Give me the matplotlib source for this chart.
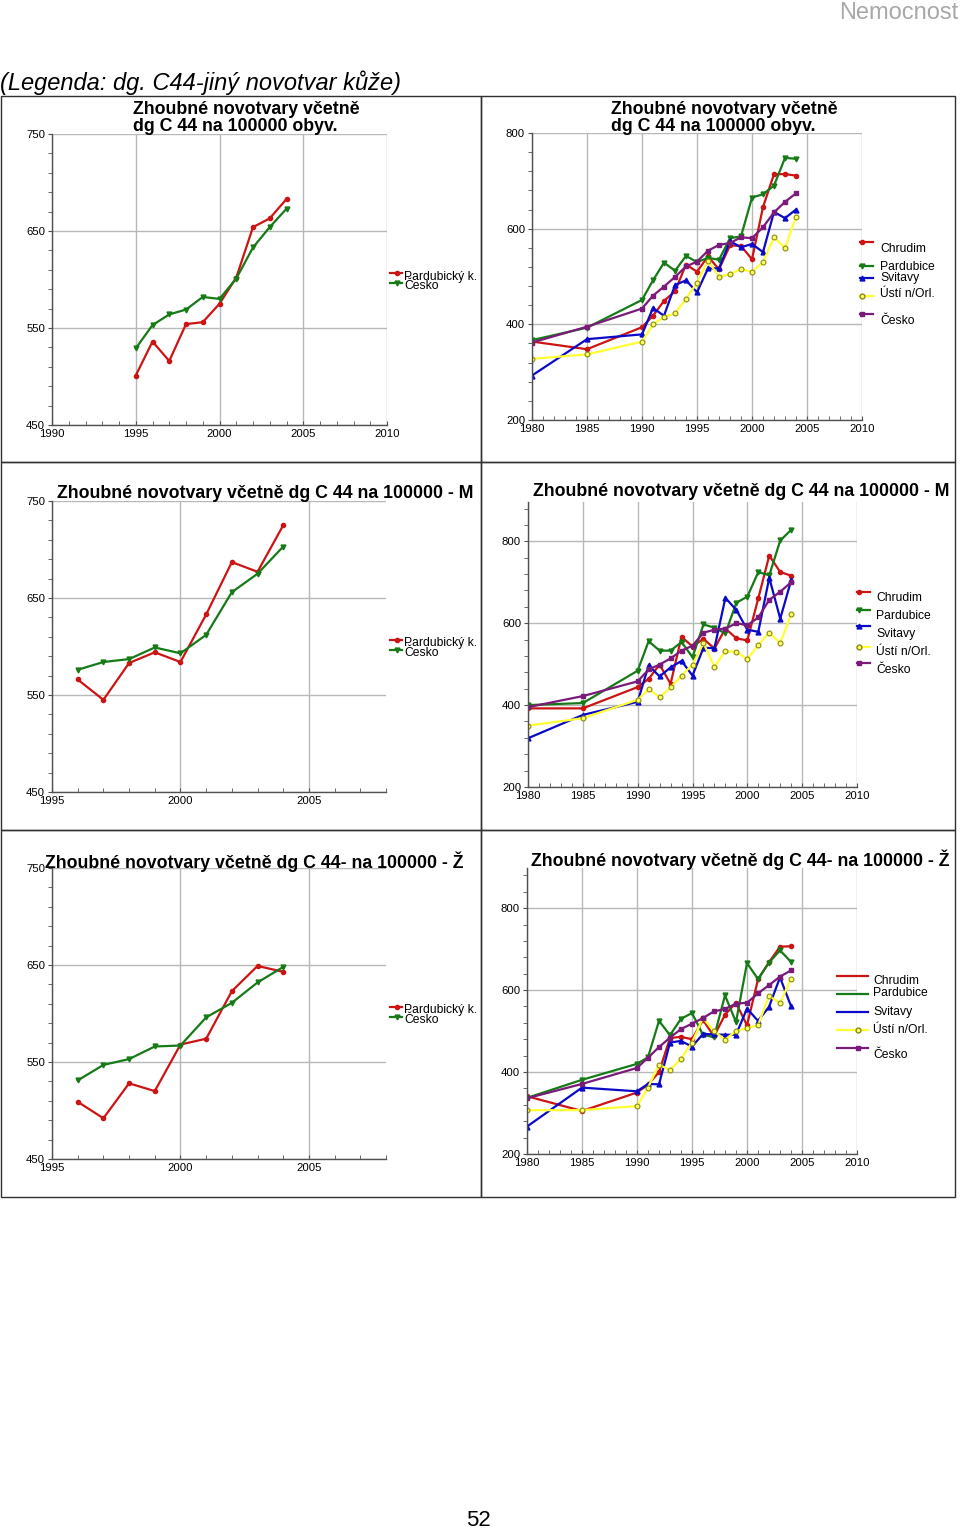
import matplotlib
matplotlib.use("Agg")
import numpy as np
import matplotlib.pyplot as plt
from matplotlib.lines import Line2D
from matplotlib.patches import Rectangle
from matplotlib.ticker import FixedLocator, MultipleLocator

plt.rcParams['font.family'] = ['Liberation Sans', 'DejaVu Sans']

W, H = 960, 1530

# ---------------- data ----------------
years_kraj_all = [1995, 1996, 1997, 1998, 1999, 2000, 2001, 2002, 2003, 2004]
kraj_all_pardubicky = [501, 536, 516, 554, 556, 575, 602, 654, 663, 683]
kraj_all_cesko = [529, 553, 564, 569, 582, 580, 601, 633, 654, 673]

years_kraj_mz = [1996, 1997, 1998, 1999, 2000, 2001, 2002, 2003, 2004]
kraj_m_pardubicky = [566, 545, 583, 594, 584, 633, 687, 677, 725]
kraj_m_cesko = [576, 584, 587, 599, 593, 612, 656, 675, 703]
kraj_z_pardubicky = [509, 492, 528, 520, 568, 574, 623, 649, 643]
kraj_z_cesko = [531, 547, 553, 566, 567, 596, 611, 632, 648]

years_okres = [1980, 1985, 1990, 1991, 1992, 1993, 1994, 1995, 1996, 1997,
               1998, 1999, 2000, 2001, 2002, 2003, 2004]
all_chrudim = [364, 348, 394, 418, 449, 469, 525, 510, 542, 515, 565, 564, 536, 645, 714, 714, 711]
all_pardubice = [367, 393, 451, 492, 529, 512, 543, 530, 539, 535, 580, 584, 665, 672, 690, 748, 746]
all_svitavy = [293, 369, 379, 434, 418, 482, 492, 467, 517, 517, 574, 561, 568, 551, 635, 622, 640]
all_usti = [328, 337, 364, 400, 415, 423, 453, 487, 533, 499, 505, 515, 510, 530, 582, 559, 625]
all_cesko = [362, 395, 433, 460, 479, 499, 521, 531, 554, 566, 570, 582, 580, 603, 634, 656, 674]

m_chrudim = [392, 392, 444, 464, 499, 452, 567, 543, 562, 538, 587, 563, 558, 661, 765, 725, 716]
m_pardubice = [400, 405, 484, 556, 533, 533, 554, 517, 597, 589, 575, 650, 665, 725, 717, 802, 828]
m_svitavy = [319, 376, 408, 497, 470, 492, 508, 472, 540, 539, 662, 632, 584, 579, 711, 611, 705]
m_usti = [350, 368, 413, 439, 419, 443, 472, 499, 551, 494, 532, 530, 512, 547, 577, 551, 623]
m_cesko = [395, 422, 458, 487, 499, 514, 533, 545, 577, 584, 587, 600, 595, 614, 657, 677, 700]

z_chrudim = [341, 305, 350, 369, 400, 483, 486, 480, 527, 487, 540, 569, 514, 626, 668, 706, 707]
z_pardubice = [337, 381, 420, 436, 525, 490, 530, 544, 491, 485, 587, 522, 666, 627, 667, 697, 669]
z_svitavy = [267, 362, 353, 371, 370, 472, 476, 462, 493, 492, 491, 491, 555, 525, 559, 631, 561]
z_usti = [307, 307, 317, 362, 418, 405, 433, 472, 532, 500, 479, 500, 507, 514, 586, 568, 628]
z_cesko = [336, 371, 410, 435, 461, 484, 505, 518, 532, 548, 554, 567, 569, 592, 612, 633, 648]

kraj_labels = ['Pardubický k.', 'Česko']
okres_labels = ['Chrudim', 'Pardubice', 'Svitavy', 'Ústí n/Orl.', 'Česko']

title_all = 'Zhoubné novotvary včetně\ndg C 44 na 100000 obyv.'
title_m = 'Zhoubné novotvary včetně dg C 44 na 100000 - M'
title_z = 'Zhoubné novotvary včetně dg C 44- na 100000 - Ž'

# ---------------- styles ----------------
RED, GREEN, BLUE, YELLOW, PURPLE = '#cc1414', '#167a16', '#0a0ac8', '#ffff33', '#7a1a7a'
styles_kraj = [dict(color=RED, marker='o', ms=3, mfc=RED, mec=RED),
               dict(color=GREEN, marker='v', ms=3.5, mfc=GREEN, mec=GREEN)]
styles_okres = [dict(color=RED, marker='o', ms=3, mfc=RED, mec=RED),
                dict(color=GREEN, marker='v', ms=3.5, mfc=GREEN, mec=GREEN),
                dict(color=BLUE, marker='^', ms=3.5, mfc=BLUE, mec=BLUE),
                dict(color=YELLOW, marker='o', ms=3.5, mfc='#ffff66', mec='#8a8a10', mew=0.8),
                dict(color=PURPLE, marker='s', ms=3, mfc=PURPLE, mec=PURPLE)]

fig = plt.figure(figsize=(W / 100, H / 100), dpi=100)


def fx(x):
    return x / W


def fy(y):
    return 1 - y / H


def make_ax(l, r, t, b):
    return fig.add_axes([l / W, 1 - b / H, (r - l) / W, (b - t) / H])


def style_ax(ax, xlim, ylim, xmaj, ymaj_list, ymin_list):
    ax.set_xlim(*xlim)
    ax.set_ylim(*ylim)
    ax.xaxis.set_major_locator(MultipleLocator(xmaj))
    ax.xaxis.set_minor_locator(MultipleLocator(1))
    ax.yaxis.set_major_locator(FixedLocator(ymaj_list))
    ax.yaxis.set_minor_locator(FixedLocator(ymin_list))
    for s in ['top', 'right']:
        ax.spines[s].set_visible(False)
    for s in ['left', 'bottom']:
        ax.spines[s].set_color('#505050')
        ax.spines[s].set_linewidth(1.0)
    ax.grid(True, which='major', color='#b8b8b8', lw=1.0)
    ax.set_axisbelow(True)
    ax.tick_params(axis='x', which='both', direction='in', length=3, color='#505050',
                   labelsize=8.2, pad=3)
    ax.tick_params(axis='y', which='both', direction='out', length=3, color='#505050',
                   labelsize=8.2, pad=2)
    ax.set_facecolor('none')


def leg_line(x0, x1, y, st, mx=None):
    fig.add_artist(Line2D([fx(x0), fx(x1)], [fy(y), fy(y)], transform=fig.transFigure,
                          color=st['color'], lw=1.6))
    if mx is not None:
        fig.add_artist(Line2D([fx(mx)], [fy(y)], transform=fig.transFigure, ls='none',
                              marker=st['marker'], ms=st['ms'], mfc=st['mfc'], mec=st['mec']))


def leg_text(x, y, s):
    fig.text(fx(x), fy(y), s, fontsize=8.7, ha='left', va='center')


left_ymaj = [450, 550, 650, 750]
left_ymin = list(np.arange(450, 751, 20))
right_ymaj = [200, 400, 600, 800]
right_ymin = list(np.arange(200, 900, 40))

# ---------------- frames ----------------
for (l, t, r, b) in [(1, 96, 481, 462), (481, 96, 955, 462),
                     (1, 462, 481, 830), (481, 462, 955, 830),
                     (1, 830, 481, 1197), (481, 830, 955, 1197)]:
    fig.add_artist(Rectangle((fx(l), fy(b)), (r - l) / W, (b - t) / H,
                             transform=fig.transFigure, fill=False, ec='#303030', lw=1.0))

fig.text(fx(958), fy(13), 'Nemocnost', fontsize=17, color='#a8a8a8', ha='right', va='center')
fig.text(fx(0), fy(83), '(Legenda: dg. C44-jiný novotvar kůže)', fontsize=17,
         style='italic', ha='left', va='center')
fig.text(fx(478), fy(1520), '52', fontsize=16, ha='center', va='center')

# ---------------- panel 1 ----------------
ax1 = make_ax(52, 387, 134, 425)
style_ax(ax1, (1990, 2010), (450, 750), 5, left_ymaj, left_ymin)
for vals, st in zip([kraj_all_pardubicky, kraj_all_cesko], styles_kraj):
    ax1.plot(years_kraj_all, vals, lw=1.6, **st)
fig.text(fx(133), fy(118), title_all, fontsize=12.8, fontweight='bold', ha='left',
         va='center', linespacing=0.95, multialignment='left')
leg_line(390, 402, 273, styles_kraj[0], 397)
leg_line(390, 402, 283, styles_kraj[1], 397)
leg_text(404, 277, kraj_labels[0])
leg_text(404, 286, kraj_labels[1])

# ---------------- panel 2 ----------------
ax2 = make_ax(532, 862, 133, 420)
style_ax(ax2, (1980, 2010), (200, 800), 5, right_ymaj, right_ymin)
for vals, st in zip([all_chrudim, all_pardubice, all_svitavy, all_usti, all_cesko], styles_okres):
    ax2.plot(years_okres, vals, lw=1.6, **st)
fig.text(fx(611), fy(118), title_all, fontsize=12.8, fontweight='bold', ha='left',
         va='center', linespacing=0.95, multialignment='left')
leg_ys2 = [242, 266, 278, 296, 314]
txt_ys2 = [249, 267, 278, 294, 321]
for st, ly, ty, lab in zip(styles_okres, leg_ys2, txt_ys2, okres_labels):
    leg_line(860, 873, ly, st, 862)
    leg_text(880, ty, lab)

# ---------------- panel 3 ----------------
ax3 = make_ax(52, 386, 501, 792)
style_ax(ax3, (1995, 2008), (450, 750), 5, left_ymaj, left_ymin)
for vals, st in zip([kraj_m_pardubicky, kraj_m_cesko], styles_kraj):
    ax3.plot(years_kraj_mz, vals, lw=1.6, **st)
fig.text(fx(57), fy(493), title_m, fontsize=12.8, fontweight='bold', ha='left', va='center')
leg_line(390, 402, 640, styles_kraj[0], 397)
leg_line(390, 402, 650, styles_kraj[1], 397)
leg_text(404, 643, kraj_labels[0])
leg_text(404, 653, kraj_labels[1])

# ---------------- panel 4 ----------------
ax4 = make_ax(528, 857, 502, 787)
style_ax(ax4, (1980, 2010), (200, 896), 5, right_ymaj, right_ymin)
for vals, st in zip([m_chrudim, m_pardubice, m_svitavy, m_usti, m_cesko], styles_okres):
    ax4.plot(years_okres, vals, lw=1.6, **st)
fig.text(fx(533), fy(492), title_m, fontsize=12.8, fontweight='bold', ha='left', va='center')
leg_ys4 = [592, 610, 626, 647, 663]
txt_ys4 = [598, 616, 634, 652, 670]
for st, ly, ty, lab in zip(styles_okres, leg_ys4, txt_ys4, okres_labels):
    leg_line(857, 870, ly, st, 859)
    leg_text(876, ty, lab)

# ---------------- panel 5 ----------------
ax5 = make_ax(52, 386, 868, 1159)
style_ax(ax5, (1995, 2008), (450, 750), 5, left_ymaj, left_ymin)
for vals, st in zip([kraj_z_pardubicky, kraj_z_cesko], styles_kraj):
    ax5.plot(years_kraj_mz, vals, lw=1.6, **st)
fig.text(fx(45), fy(862), title_z, fontsize=12.8, fontweight='bold', ha='left', va='center')
leg_line(390, 402, 1007, styles_kraj[0], 397)
leg_line(390, 402, 1017, styles_kraj[1], 397)
leg_text(404, 1010, kraj_labels[0])
leg_text(404, 1020, kraj_labels[1])

# ---------------- panel 6 ----------------
ax6 = make_ax(527, 857, 868, 1154)
style_ax(ax6, (1980, 2010), (200, 898), 5, right_ymaj, right_ymin)
for vals, st in zip([z_chrudim, z_pardubice, z_svitavy, z_usti, z_cesko], styles_okres):
    ax6.plot(years_okres, vals, lw=1.6, **st)
fig.text(fx(531), fy(860), title_z, fontsize=12.8, fontweight='bold', ha='left', va='center')
leg_ys6 = [976, 994, 1012, 1030, 1048]
txt_ys6 = [981, 993, 1012, 1030, 1055]
for i, (st, ly, ty, lab) in enumerate(zip(styles_okres, leg_ys6, txt_ys6, okres_labels)):
    leg_line(837, 868, ly, st, 858 if i >= 3 else None)
    leg_text(873, ty, lab)

fig.savefig('out.png', dpi=100, facecolor='white')
